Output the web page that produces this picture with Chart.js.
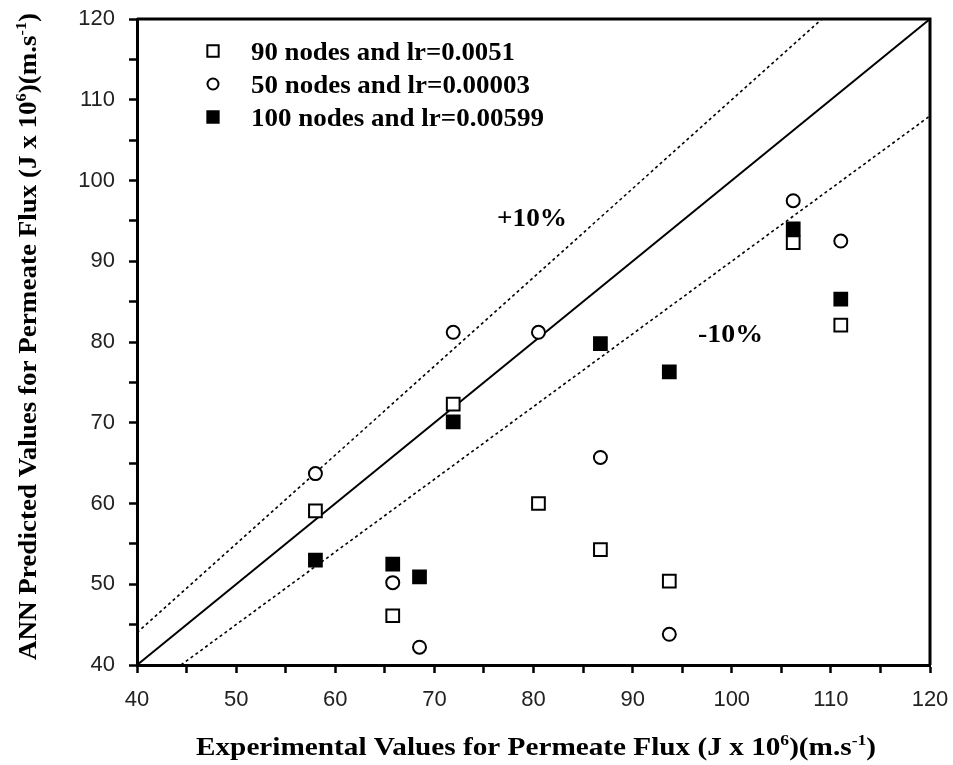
<!DOCTYPE html>
<html>
<head>
<meta charset="utf-8">
<script src="https://cdn.jsdelivr.net/npm/chart.js@4.4.1/dist/chart.umd.min.js"></script>
<style>
    html, body { margin: 0; padding: 0; background: #fff; }
    canvas { display: block; }
</style>
</head>
<body>
<canvas id="fluxChart" width="953" height="765"></canvas>
<script>
// experimental vs ANN predicted permeate flux, one pair of arrays per network
const expFlux90 = [58.0, 65.8, 71.9, 80.5, 86.75, 93.7, 106.2, 111.0];
const annFlux90 = [59.1, 46.1, 72.3, 60.0, 54.3, 50.4, 92.3, 82.1];

const expFlux50 = [58.0, 65.8, 68.5, 71.9, 80.5, 86.75, 93.7, 106.2, 111.0];
const annFlux50 = [63.7, 50.2, 42.2, 81.2, 81.2, 65.7, 43.8, 97.5, 92.5];

const expFlux100 = [58.0, 65.8, 68.5, 71.9, 86.75, 93.7, 106.2, 111.0];
const annFlux100 = [53.0, 52.5, 50.9, 70.1, 79.8, 76.3, 94.0, 85.3];

const seriesLabels = [
    '90 nodes and lr=0.0051',
    '50 nodes and lr=0.00003',
    '100 nodes and lr=0.00599',
];

// parity line and the +/-10% band, as end points
const parityX = [40, 120];
const parityY = [40, 120];
const plusTenX = [40, 109.09];
const plusTenY = [44, 120];
const minusTenX = [44.44, 120];
const minusTenY = [40, 108];

const axisMin = 40;
const axisMax = 120;
const tickStep = 5;

const serif = '"Liberation Serif", "Times New Roman", serif';
const sans = '"Liberation Sans", Arial, sans-serif';

function toPoints(xs, ys) {
    return xs.map((x, i) => ({ x, y: ys[i] }));
}

function pointSeries(label, xs, ys, style, fill, radius) {
    return {
        type: 'scatter',
        label,
        data: toPoints(xs, ys),
        pointStyle: style,
        pointRadius: radius,
        pointHoverRadius: radius,
        pointBackgroundColor: fill,
        pointBorderColor: '#000',
        pointBorderWidth: 2,
        showLine: false,
        order: 1,
    };
}

function guideLine(xs, ys, dash, width) {
    return {
        type: 'line',
        label: '',
        data: toPoints(xs, ys),
        borderColor: '#000',
        borderWidth: width,
        borderDash: dash,
        pointRadius: 0,
        fill: false,
        order: 10,
    };
}

// bold serif text with optional superscript runs, left end at (0, 0) of the
// current transform, stretched along the baseline to the given width
function drawRichText(ctx, parts, size, width) {
    const base = `bold ${size}px ${serif}`;
    const small = `bold ${Math.round(size * 0.6)}px ${serif}`;
    let total = 0;
    parts.forEach((p) => {
        ctx.font = p.sup ? small : base;
        total += ctx.measureText(p.text).width;
    });
    ctx.save();
    ctx.scale(width / total, 1);
    let x = 0;
    ctx.textBaseline = 'alphabetic';
    ctx.textAlign = 'left';
    parts.forEach((p) => {
        ctx.font = p.sup ? small : base;
        ctx.fillText(p.text, x, p.sup ? -size * 0.42 : 0);
        x += ctx.measureText(p.text).width;
    });
    ctx.restore();
}

const frameAndText = {
    id: 'frameAndText',
    afterDraw(chart) {
        const { ctx, chartArea: area } = chart;
        ctx.save();

        // top and right edges of the box
        ctx.strokeStyle = '#000';
        ctx.lineWidth = 3;
        ctx.beginPath();
        ctx.moveTo(area.left, area.top);
        ctx.lineTo(area.right, area.top);
        ctx.lineTo(area.right, area.bottom);
        ctx.stroke();

        // legend inside the plot
        const styles = [
            { pointStyle: 'rect', fill: '#fff' },
            { pointStyle: 'circle', fill: '#fff' },
            { pointStyle: 'rect', fill: '#000' },
        ];
        const rows = [51, 84, 117];
        const labelWidths = [264, 279, 293];
        styles.forEach((s, i) => {
            ctx.fillStyle = s.fill;
            ctx.strokeStyle = '#000';
            ctx.lineWidth = 2;
            Chart.helpers.drawPoint(ctx, {
                pointStyle: s.pointStyle,
                radius: s.pointStyle === 'rect' ? 8 : 5.5,
                rotation: 0,
                borderWidth: 2,
            }, 213, rows[i]);
            ctx.fillStyle = '#000';
            ctx.save();
            ctx.translate(251, rows[i] + 9);
            drawRichText(ctx, [{ text: seriesLabels[i] }], 25, labelWidths[i]);
            ctx.restore();
        });

        // band labels
        ctx.fillStyle = '#000';
        ctx.save();
        ctx.translate(497, 226);
        drawRichText(ctx, [{ text: '+10%' }], 26, 70);
        ctx.restore();
        ctx.save();
        ctx.translate(698, 342);
        drawRichText(ctx, [{ text: '-10%' }], 26, 65);
        ctx.restore();

        // axis titles
        const unit = [
            { text: ' (J x 10' }, { text: '6', sup: true },
            { text: ')(m.s' }, { text: '-1', sup: true }, { text: ')' },
        ];
        ctx.save();
        ctx.translate(196, 755);
        drawRichText(ctx, [{ text: 'Experimental Values for Permeate Flux' }, ...unit], 25, 680);
        ctx.restore();

        ctx.save();
        ctx.translate(36, 660);
        ctx.rotate(-Math.PI / 2);
        drawRichText(ctx, [{ text: 'ANN Predicted Values for Permeate Flux' }, ...unit], 25, 647);
        ctx.restore();

        ctx.restore();
    },
};

function axisOptions(fit) {
    return {
        type: 'linear',
        min: axisMin,
        max: axisMax,
        afterFit: fit,
        ticks: {
            stepSize: tickStep,
            autoSkip: false,
            maxRotation: 0,
            color: '#222',
            padding: 14,
            font: { family: sans, size: 22 },
            callback: (value) => (value % 10 === 0 ? String(value) : ''),
        },
        grid: {
            display: true,
            drawOnChartArea: false,
            drawTicks: true,
            tickLength: 8,
            tickWidth: 2.5,
            tickColor: '#000',
        },
        border: { display: true, color: '#000', width: 3 },
        title: { display: false },
    };
}

new Chart(document.getElementById('fluxChart'), {
    data: {
        datasets: [
            guideLine(parityX, parityY, [], 2),
            guideLine(plusTenX, plusTenY, [3, 3], 1.6),
            guideLine(minusTenX, minusTenY, [3, 3], 1.6),
            pointSeries(seriesLabels[0], expFlux90, annFlux90, 'rect', '#fff', 9),
            pointSeries(seriesLabels[1], expFlux50, annFlux50, 'circle', '#fff', 6.5),
            pointSeries(seriesLabels[2], expFlux100, annFlux100, 'rect', '#000', 9),
        ],
    },
    options: {
        responsive: false,
        animation: false,
        layout: { padding: { top: 19, right: 23, left: 0, bottom: 0 } },
        plugins: {
            legend: { display: false },
            tooltip: { enabled: false },
        },
        scales: {
            // fixed axis boxes so the plot area sits at 137..930 x 19..665
            x: axisOptions((scale) => {
                scale.height = 100;
                scale.paddingLeft = 0;
                scale.paddingRight = 0;
            }),
            y: axisOptions((scale) => {
                scale.width = 137;
                scale.paddingTop = 0;
                scale.paddingBottom = 0;
            }),
        },
    },
    plugins: [frameAndText],
});
</script>
</body>
</html>
